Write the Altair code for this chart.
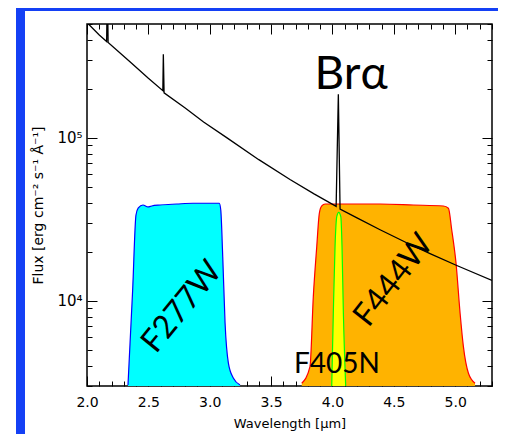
import altair as alt
import pandas as pd

# ---- data ----
spec_wl = [2.000, 2.100, 2.160, 2.166, 2.172, 2.350, 2.500, 2.618, 2.622, 2.628,
           2.800, 2.950, 3.141, 3.400, 3.654, 3.850, 4.030, 4.048, 4.062, 4.200,
           4.388, 4.600, 4.795, 5.013, 5.300]
spec_flux = [510000, 428000, 390000, 900000, 385000, 293000, 232000, 195000, 326000, 189000,
             152600, 125000, 100000, 73500, 55500, 45300, 38000, 185000, 36500, 32300,
             27300, 22800, 19500, 16470, 13330]

f277_wl = [2.334, 2.372, 2.399, 2.418, 2.456, 2.497, 2.527, 2.595, 2.731, 2.864,
           3.002, 3.078, 3.090, 3.106, 3.125, 3.152, 3.192, 3.247]
f277_flux = [3043, 11650, 33630, 37150, 38730, 37670, 38200, 38730, 39270, 39700,
             39700, 39700, 36070, 18660, 7310, 4150, 3360, 3043]

f444_wl = [3.750, 3.817, 3.844, 3.872, 3.893, 3.913, 3.940, 4.117, 4.388, 4.659,
           4.904, 4.945, 4.972, 5.007, 5.040, 5.067, 5.108, 5.162]
f444_flux = [3118, 3940, 10600, 21490, 34450, 38200, 39270, 39270, 39270, 38730,
             38200, 36970, 27200, 16990, 8385, 5229, 3590, 3118]

f405_wl = [3.994, 4.007, 4.021, 4.035, 4.051, 4.068, 4.078, 4.089, 4.108]
f405_flux = [3000, 8385, 21490, 32830, 34940, 32830, 21490, 8385, 3000]

x_ticks = [round(2.0 + 0.1 * i, 1) for i in range(34)]
y_ticks = [3000, 4000, 5000, 6000, 7000, 8000, 9000, 10000,
           20000, 30000, 40000, 50000, 60000, 70000, 80000, 90000, 100000,
           200000, 300000, 400000, 500000]

BASE = 1000  # below the plotted range, used as fill baseline

def frame(wl, fl):
    return pd.DataFrame({"wl": wl, "flux": fl, "base": [BASE] * len(wl)})

spec_df = pd.DataFrame({"wl": spec_wl, "flux": spec_flux})
f277_df = frame(f277_wl, f277_flux)
f444_df = frame(f444_wl, f444_flux)
f405_df = frame(f405_wl, f405_flux)

# ---- scales / axes ----
xs = alt.Scale(domain=[2.0, 5.3], nice=False, zero=False)
ys = alt.Scale(type="log", domain=[3000, 500000], nice=False)

XMAJ = "abs(datum.value*2 - round(datum.value*2)) < 0.01"
YMAJ = "datum.value == 10000 || datum.value == 100000"
AX_FONT = "DejaVu Sans"

common = dict(domain=False, grid=False, tickColor="black", tickWidth=1,
              labelColor="black", titleColor="black", labelFont=AX_FONT,
              titleFont=AX_FONT, titleFontWeight="normal", labelOverlap=False,
              labelFlush=False)

x_bottom = alt.Axis(values=x_ticks, orient="bottom",
                    tickSize={"condition": {"test": XMAJ, "value": -10}, "value": -5},
                    labelExpr=XMAJ + " ? format(datum.value, '.1f') : ''",
                    labelPadding=19, labelFontSize=14,
                    title="Wavelength [μm]", titleFontSize=13, titlePadding=3,
                    **common)
y_left = alt.Axis(values=y_ticks, orient="left",
                  tickSize={"condition": {"test": YMAJ, "value": -10}, "value": -5},
                  labelExpr="datum.value == 10000 ? '10⁴' : datum.value == 100000 ? '10⁵' : ''",
                  labelPadding=15, labelFontSize=15,
                  title="Flux [erg cm⁻² s⁻¹ Å⁻¹]", titleFontSize=14, titlePadding=11,
                  **common)
x_top = alt.Axis(values=x_ticks, orient="top", labels=False, title=None,
                 tickSize={"condition": {"test": XMAJ, "value": -10}, "value": -5},
                 **common)
y_right = alt.Axis(values=y_ticks, orient="right", labels=False, title=None,
                   tickSize={"condition": {"test": YMAJ, "value": -10}, "value": -5},
                   **common)

def area(df, fill, axes=False):
    return alt.Chart(df).mark_area(color=fill, opacity=1, clip=True, interpolate="monotone").encode(
        x=alt.X("wl:Q", scale=xs, axis=x_bottom if axes else None),
        y=alt.Y("flux:Q", scale=ys, axis=y_left if axes else None),
        y2="base:Q",
    )

def outline(df, stroke):
    return alt.Chart(df).mark_line(color=stroke, strokeWidth=1.2, clip=True, interpolate="monotone").encode(
        x=alt.X("wl:Q", scale=xs, axis=None),
        y=alt.Y("flux:Q", scale=ys, axis=None),
    )

spectrum = alt.Chart(spec_df).mark_line(color="black", strokeWidth=1.3, clip=True).encode(
    x=alt.X("wl:Q", scale=xs, axis=x_top),
    y=alt.Y("flux:Q", scale=ys, axis=y_right),
)

def label(text, xv, yv, size, angle=0, baseline="middle"):
    return alt.Chart(alt.Data(values=[{}])).mark_text(
        text=text, font="Lato", fontSize=size, angle=angle, color="black",
        align="center", baseline=baseline,
    ).encode(
        x=alt.X(datum=xv, scale=xs, axis=None),
        y=alt.Y(datum=yv, scale=ys, axis=None),
    )

BLUE = "#1440F5"
def band(x1, x2, y1, y2, color=BLUE):
    return alt.Chart(alt.Data(values=[{}])).mark_rect(color=color).encode(
        x=alt.value(x1), x2=alt.value(x2), y=alt.value(y1), y2=alt.value(y2))

chart = alt.layer(
    area(f277_df, "#00FFFF", axes=True),
    outline(f277_df, "#0000FF"),
    area(f444_df, "#FFB300"),
    outline(f444_df, "#FF0000"),
    area(f405_df, "#FFFF00"),
    outline(f405_df, "#00FF00"),
    spectrum,
    label("Brα", 4.152, 200000, 46, baseline="alphabetic"),
    label("F405N", 4.037, 3620, 28, baseline="alphabetic"),
    label("F277W", 2.772, 9200, 32, angle=309),
    label("F444W", 4.497, 13420, 32, angle=308),
    band(-71, 411, -16, -13),
    band(-71, -62, -16, 410),
).resolve_axis(x="independent", y="independent").properties(
    width=405, height=362,
    autosize=alt.AutoSizeParams(type="none"),
    padding={"left": 79, "top": 16, "right": 6, "bottom": 48},
    background="white",
).configure_view(stroke="black", strokeWidth=1.5)

chart.save("out.html", embed_options={"renderer": "svg", "actions": False})
